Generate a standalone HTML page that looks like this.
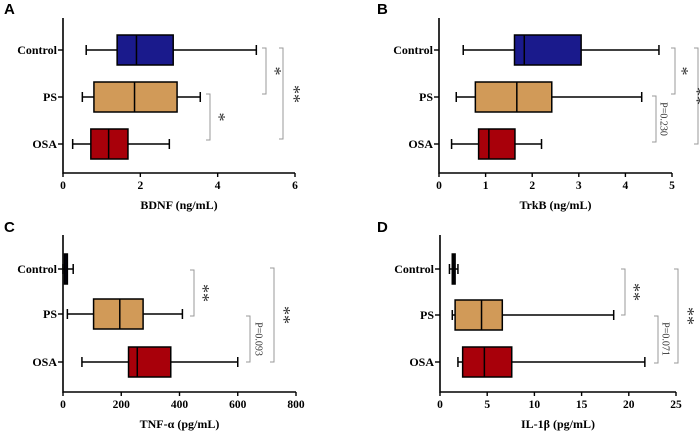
<!DOCTYPE html>
<html><head><meta charset="utf-8"><style>
body{margin:0;background:#fff;width:700px;height:434px;overflow:hidden}
svg{display:block;font-family:"Liberation Serif",serif}
</style></head><body>
<svg id="c" width="700" height="434" viewBox="0 0 700 434"></svg>
<script>
const categories = ["Control","PS","OSA"];
const colors = ["#1a1a8c","#d19a58","#a8000a"];
// [min, q1, median, q3, max]
const bdnfValues = [[0.6,1.4,1.9,2.85,5.0],[0.5,0.8,1.85,2.95,3.55],[0.25,0.72,1.18,1.68,2.75]];
const trkbValues = [[0.52,1.62,1.83,3.05,4.72],[0.37,0.78,1.67,2.42,4.35],[0.27,0.85,1.07,1.63,2.2]];
const tnfValues = [[0,5,10,15,35],[15,105,195,275,410],[65,225,255,370,600]];
const il1bValues = [[1.0,1.3,1.45,1.6,1.9],[1.3,1.6,4.4,6.6,18.4],[1.9,2.4,4.7,7.6,21.7]];
const bdnfTicks = [0,2,4,6];
const trkbTicks = [0,1,2,3,4,5];
const tnfTicks = [0,200,400,600,800];
const il1bTicks = [0,5,10,15,20,25];

const NS="http://www.w3.org/2000/svg";
const svg=document.getElementById('c');
function mk(tag,attrs,parent,text){const e=document.createElementNS(NS,tag);for(const k in attrs)e.setAttribute(k,attrs[k]);if(text!==undefined)e.textContent=text;(parent||svg).appendChild(e);return e;}

const panels=[
 {letter:"A",lx:4,ly:14,x0:63,x1:295,top:18,bottom:173,rows:[50,97,144],vals:bdnfValues,ticks:bdnfTicks,max:6,title:"BDNF (ng/mL)",
  br:[{x:266,y1:48,y2:94,t:"*",tx:273,ty:71},{x:210,y1:94,y2:140,t:"*",tx:217,ty:117},{x:283,y1:48,y2:139,t:"**",tx:292,ty:94}]},
 {letter:"B",lx:377,ly:14,x0:439,x1:672,top:18,bottom:173,rows:[50,97,144],vals:trkbValues,ticks:trkbTicks,max:5,title:"TrkB (ng/mL)",
  br:[{x:675,y1:48,y2:94,t:"*",tx:680,ty:71},{x:656,y1:96,y2:142,t:"P=0.230",tx:663,ty:119,p:1},{x:698,y1:48,y2:144,t:"**",tx:695,ty:96}]},
 {letter:"C",lx:4,ly:232,x0:63,x1:296,top:235,bottom:392,rows:[269,314,362],vals:tnfValues,ticks:tnfTicks,max:800,title:"TNF-α (pg/mL)",
  br:[{x:194,y1:270,y2:316,t:"**",tx:201,ty:293},{x:250,y1:316,y2:362,t:"P=0.093",tx:258,ty:339,p:1},{x:274,y1:268,y2:362,t:"**",tx:282,ty:315}]},
 {letter:"D",lx:377,ly:232,x0:440,x1:676,top:235,bottom:392,rows:[269,315,362],vals:il1bValues,ticks:il1bTicks,max:25,title:"IL-1β (pg/mL)",
  br:[{x:625,y1:269,y2:315,t:"**",tx:632,ty:292},{x:658,y1:316,y2:363,t:"P=0.071",tx:665,ty:339,p:1},{x:678,y1:269,y2:363,t:"**",tx:686,ty:316}]}
];
panels.forEach((p,pi)=>{
  const g=mk('g',{});
  
  
  const sx=v=>p.x0+(v/p.max)*(p.x1-p.x0);
  const L=mk('text',{x:p.lx,y:p.ly,'font-family':'Liberation Sans,sans-serif','font-weight':'bold','font-size':15},g,p.letter);
  
  const ax=mk('path',{d:`M${p.x0} ${p.top}V${p.bottom}H${p.x1}`,stroke:'#000','stroke-width':1.6,fill:'none'},g);
  
  p.ticks.forEach(t=>{
    const x=sx(t);
    mk('line',{x1:x,x2:x,y1:p.bottom,y2:p.bottom+4,stroke:'#000','stroke-width':1.4},g);
    const tl=mk('text',{x:x,y:p.bottom+16,'text-anchor':'middle','font-weight':'bold','font-size':11.5},g,t);
    
  });
  const xt=mk('text',{x:(p.x0+p.x1)/2,y:p.bottom+36,'text-anchor':'middle','font-weight':'bold','font-size':12},g,p.title);
  
  categories.forEach((c,i)=>{
    const y=p.rows[i];
    mk('line',{x1:p.x0-5,x2:p.x0,y1:y,y2:y,stroke:'#000','stroke-width':1.4},g);
    const cl=mk('text',{x:p.x0-6,y:y+4,'text-anchor':'end','font-weight':'bold','font-size':12},g,c);
    
    const v=p.vals[i];
    const bg=mk('g',{},g);
    
    
    mk('line',{x1:sx(v[0]),x2:sx(v[4]),y1:y,y2:y,stroke:'#000','stroke-width':1.5},bg);
    mk('line',{x1:sx(v[0]),x2:sx(v[0]),y1:y-5,y2:y+5,stroke:'#000','stroke-width':1.5},bg);
    mk('line',{x1:sx(v[4]),x2:sx(v[4]),y1:y-5,y2:y+5,stroke:'#000','stroke-width':1.5},bg);
    mk('rect',{x:sx(v[1]),y:y-15,width:Math.max(sx(v[3])-sx(v[1]),1),height:30,fill:colors[i],stroke:'#000','stroke-width':1.5},bg);
    mk('line',{x1:sx(v[2]),x2:sx(v[2]),y1:y-15,y2:y+15,stroke:'#000','stroke-width':1.5},bg);
  });
  p.br.forEach(b=>{
    const bb=mk('path',{d:`M${b.x-4} ${b.y1}H${b.x}V${b.y2}H${b.x-4}`,stroke:'#999','stroke-width':1,fill:'none'},g);
    
    const st=mk('text',{x:b.tx,y:b.ty,'text-anchor':'middle','font-size':b.p?10:18,fill:'#333',transform:`rotate(90 ${b.tx} ${b.ty})`,'dominant-baseline':'middle'},g,b.t);
    
  });
});
</script>
</body></html>
